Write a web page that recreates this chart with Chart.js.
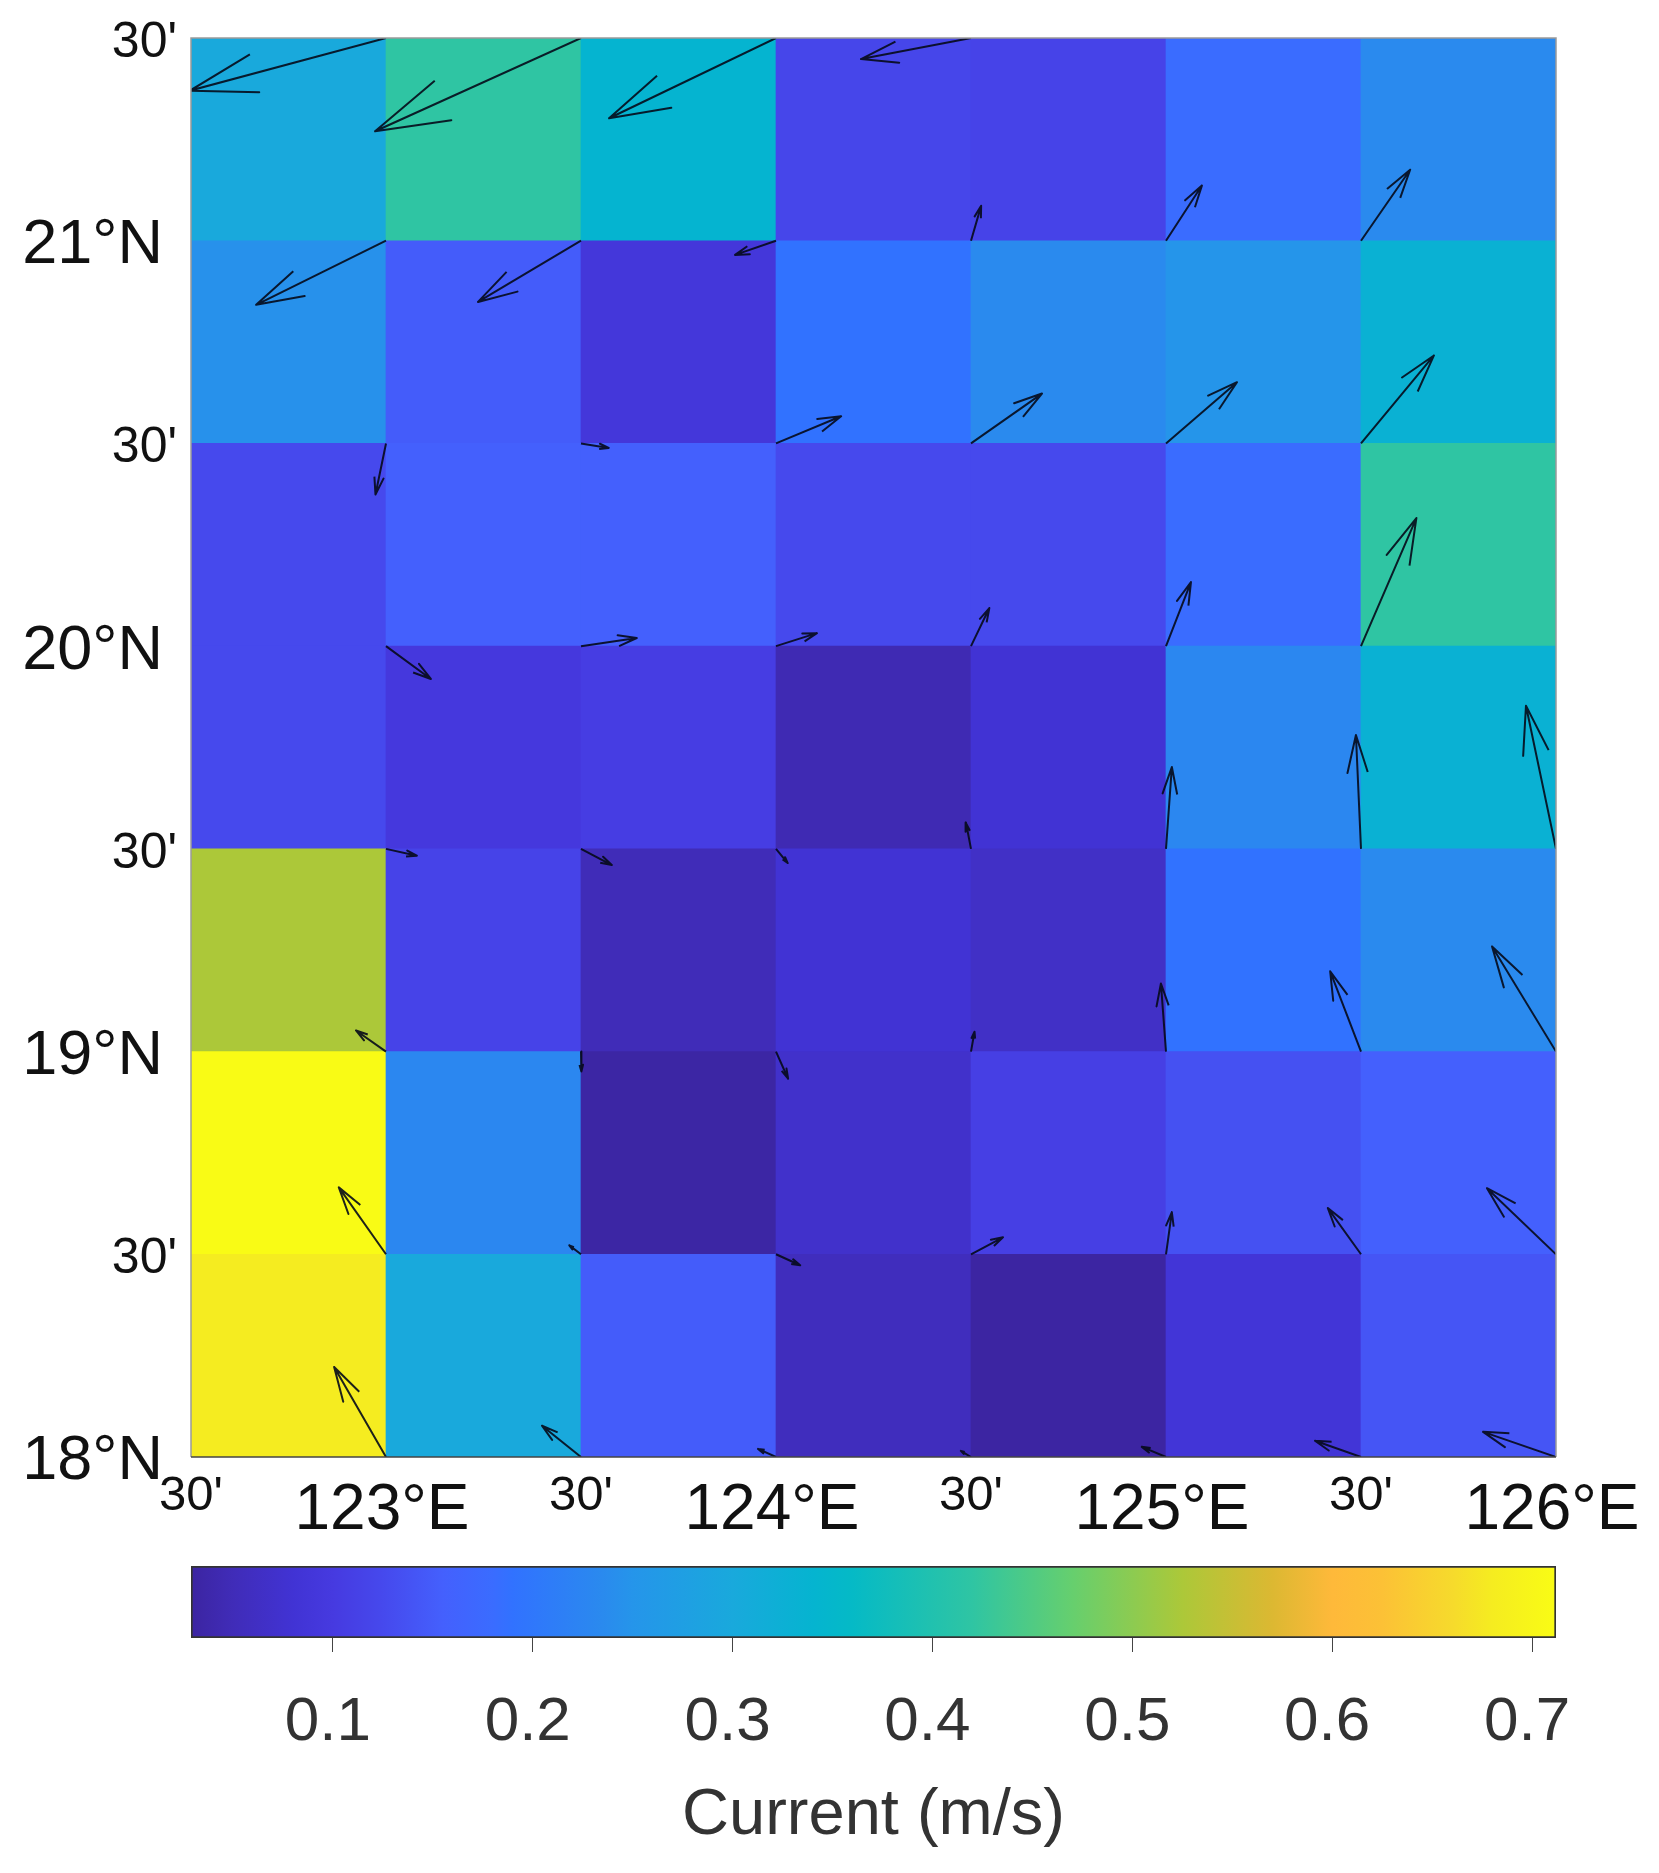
<!DOCTYPE html>
<html>
<head>
<meta charset="utf-8">
<title>Current (m/s)</title>
<script src="https://cdn.jsdelivr.net/npm/chart.js@4"></script>
<style>
	body { margin: 0; background: #fff; }
	#wrap { position: relative; width: 1659px; height: 1873px; overflow: hidden; }
	canvas { position: absolute; left: 0; }
	#mapChart { top: 0; }
	#barChart { top: 1530px; }
</style>
</head>
<body>
<div id="wrap">
	<canvas id="mapChart" width="1659" height="1560"></canvas>
	<canvas id="barChart" width="1659" height="343"></canvas>
</div>
<script>
// cell centres
var cellLons = [122.75, 123.25, 123.75, 124.25, 124.75, 125.25, 125.75];
var cellLats = [21.25, 20.75, 20.25, 19.75, 19.25, 18.75, 18.25];

// current speed per cell, rows north to south
var speedRow1 = [0.30, 0.42, 0.34, 0.12, 0.115, 0.18, 0.235];
var speedRow2 = [0.245, 0.15, 0.09, 0.19, 0.235, 0.25, 0.33];
var speedRow3 = [0.125, 0.155, 0.155, 0.125, 0.125, 0.18, 0.42];
var speedRow4 = [0.125, 0.095, 0.105, 0.045, 0.08, 0.23, 0.33];
var speedRow5 = [0.525, 0.115, 0.05, 0.08, 0.065, 0.19, 0.235];
var speedRow6 = [0.71, 0.23, 0.032, 0.07, 0.108, 0.135, 0.155];
var speedRow7 = [0.68, 0.30, 0.15, 0.055, 0.03, 0.085, 0.14];
var speedRows = [speedRow1, speedRow2, speedRow3, speedRow4, speedRow5, speedRow6, speedRow7];

// arrow tails, arrow components in degrees (null = no arrow in the frame)
var nodeLons = [123, 123.5, 124, 124.5, 125, 125.5, 126];
var nodeLats = [21.5, 21, 20.5, 20, 19.5, 19, 18.5, 18];
var arrowU = [
	[-0.503, -0.528, -0.428, -0.282, null, null, null],
	[-0.333, -0.264, -0.105, 0.026, 0.092, 0.126, null],
	[-0.027, 0.071, 0.167, 0.182, 0.182, 0.187, null],
	[0.115, 0.143, 0.105, 0.047, 0.064, 0.142, null],
	[0.079, 0.079, 0.030, -0.013, 0.015, -0.013, -0.077],
	[-0.077, 0.001, 0.031, 0.009, -0.013, -0.079, -0.164],
	[-0.121, -0.030, 0.062, 0.082, 0.015, -0.085, -0.177],
	[-0.133, -0.100, -0.046, -0.026, -0.062, -0.118, -0.187]
];
var arrowV = [
	[-0.130, -0.230, -0.198, -0.052, null, null, null],
	[-0.158, -0.151, -0.035, 0.086, 0.136, 0.175, null],
	[-0.126, -0.011, 0.067, 0.123, 0.151, 0.217, null],
	[-0.081, 0.020, 0.032, 0.094, 0.158, 0.316, null],
	[-0.017, -0.040, -0.035, 0.065, 0.202, 0.281, 0.353],
	[0.052, -0.049, -0.067, 0.049, 0.168, 0.198, 0.259],
	[0.165, 0.022, -0.027, 0.042, 0.104, 0.114, 0.163],
	[0.222, 0.077, 0.020, 0.015, 0.025, 0.040, 0.062]
];

// tick labels
var lonLabels = ["30'", "123°E", "30'", "124°E", "30'", "125°E", "30'", "126°E"];
var latLabels = ["18°N", "30'", "19°N", "30'", "20°N", "30'", "21°N", "30'"];
var barTicks = [0.1, 0.2, 0.3, 0.4, 0.5, 0.6, 0.7];

// colour map
var mapValues = [0.03, 0.05, 0.08, 0.10, 0.125, 0.155, 0.18, 0.19, 0.235, 0.25, 0.30, 0.34, 0.36, 0.42, 0.47, 0.525, 0.57, 0.60, 0.625, 0.66, 0.68, 0.71];
var mapColors = ['#3c25a2', '#402cb8', '#4133d4', '#463ae0', '#4649ed', '#4460fd', '#3a6cff', '#3172ff', '#2a8aee', '#2595ea', '#19a9dc', '#05b4d0', '#05bac6', '#2fc5a3', '#66cf6e', '#acc839', '#dcb832', '#feb93a', '#fcc136', '#f6da2c', '#f5ec20', '#f9fb15'];
var speedMin = 0.029;
var speedMax = 0.712;

var fontName = '"Liberation Sans", Arial, sans-serif';

function hexToRgb(hex) {
	return [parseInt(hex.substr(1, 2), 16), parseInt(hex.substr(3, 2), 16), parseInt(hex.substr(5, 2), 16)];
}

function speedColor(v) {
	var i = 0;
	while (i < mapValues.length - 2 && v > mapValues[i + 1]) i++;
	var t = Math.min(1, Math.max(0, (v - mapValues[i]) / (mapValues[i + 1] - mapValues[i])));
	var a = hexToRgb(mapColors[i]), b = hexToRgb(mapColors[i + 1]);
	return 'rgb(' + [0, 1, 2].map(function (k) { return Math.round(a[k] + (b[k] - a[k]) * t); }).join(',') + ')';
}

// Cells as floating bars
var cellData = [], cellColors = [];
speedRows.forEach(function (row, r) {
	row.forEach(function (v, c) {
		cellData.push({ x: cellLons[c], y: [cellLats[r] - 0.25, cellLats[r] + 0.25] });
		cellColors.push(speedColor(v));
	});
});

// Arrows as one broken line: tail, tip, barb, tip, barb
var arrowData = [];
arrowU.forEach(function (row, r) {
	row.forEach(function (u, c) {
		if (u === null) return;
		var v = arrowV[r][c], x = nodeLons[c], y = nodeLats[r];
		var tx = x + u, ty = y + v;
		arrowData.push({ x: x, y: y }, { x: tx, y: ty });
		arrowData.push({ x: tx - 0.33 * (u + 0.28 * v), y: ty - 0.33 * (v - 0.28 * u) });
		arrowData.push({ x: tx, y: ty });
		arrowData.push({ x: tx - 0.33 * (u - 0.28 * v), y: ty - 0.33 * (v + 0.28 * u) });
		arrowData.push({ x: null, y: null });
	});
});

// Thin frame round the map
var framePlugin = {
	id: 'frame',
	afterDatasetsDraw: function (chart) {
		var a = chart.chartArea, ctx = chart.ctx;
		ctx.save();
		ctx.lineWidth = 1.5;
		ctx.strokeStyle = '#9a9a9a';
		ctx.beginPath();
		ctx.moveTo(a.left, a.bottom);
		ctx.lineTo(a.left, a.top);
		ctx.lineTo(a.right, a.top);
		ctx.lineTo(a.right, a.bottom);
		ctx.stroke();
		ctx.strokeStyle = '#444';
		ctx.beginPath();
		ctx.moveTo(a.left, a.bottom);
		ctx.lineTo(a.right, a.bottom);
		ctx.stroke();
		ctx.restore();
	}
};

// The big and small tick labels sit at different offsets in the original
var labelNudgePlugin = {
	id: 'labelNudge',
	beforeDraw: function (chart) {
		chart.scales.y.getLabelItems().forEach(function (item) {
			var big = item.label.indexOf('°') >= 0;
			item.options.translation[0] -= big ? 14 : 0;
			item.options.translation[1] += 5;
		});
		chart.scales.x.getLabelItems().forEach(function (item) {
			var big = item.label.indexOf('°') >= 0;
			item.options.translation[0] -= big ? 4 : 0;
			item.options.translation[1] += big ? 12 : 6;
		});
	}
};

// Colour bar labels sit a little left of their ticks
var barNudgePlugin = {
	id: 'barNudge',
	beforeDraw: function (chart) {
		chart.scales.x.getLabelItems().forEach(function (item) {
			item.options.translation[0] -= 5;
		});
	}
};

new Chart(document.getElementById('mapChart').getContext('2d'), {
	type: 'bar',
	data: {
		datasets: [{
			type: 'scatter',
			data: arrowData,
			showLine: true,
			spanGaps: false,
			pointRadius: 0,
			borderColor: 'rgba(5,10,25,0.9)',
			borderWidth: 2,
			borderJoinStyle: 'round',
			order: 0
		}, {
			type: 'bar',
			data: cellData,
			backgroundColor: cellColors,
			borderWidth: 0,
			categoryPercentage: 1,
			barPercentage: 1,
			order: 1
		}]
	},
	options: {
		responsive: false,
		animation: false,
		layout: { padding: { left: 0, right: 103, top: 38, bottom: 0 } },
		plugins: { legend: { display: false }, tooltip: { enabled: false } },
		scales: {
			x: {
				type: 'linear',
				offset: false,
				min: 122.5,
				max: 126,
				afterFit: function (s) {
					s.height = 1560 - 1457;
					s.paddingLeft = 0;
					s.paddingRight = 0;
				},
				grid: { display: false, drawTicks: false },
				border: { display: false },
				ticks: {
					stepSize: 0.5,
					autoSkip: false,
					maxRotation: 0,
					minRotation: 0,
					padding: 4,
					color: '#111',
					font: function (c) {
						return { family: fontName, size: c.index % 2 ? 64 : 49 };
					},
					callback: function (v, i) { return lonLabels[i]; }
				}
			},
			y: {
				type: 'linear',
				min: 18,
				max: 21.5,
				afterFit: function (s) {
					s.width = 191;
					s.paddingTop = 0;
					s.paddingBottom = 0;
				},
				grid: { display: false, drawTicks: false },
				border: { display: false },
				ticks: {
					stepSize: 0.5,
					autoSkip: false,
					padding: 14,
					color: '#111',
					font: function (c) {
						return { family: fontName, size: c.index % 2 ? 50 : 63 };
					},
					callback: function (v, i) { return latLabels[i]; }
				}
			}
		}
	},
	plugins: [framePlugin, labelNudgePlugin]
});

new Chart(document.getElementById('barChart').getContext('2d'), {
	type: 'bar',
	data: {
		labels: ['Current (m/s)'],
		datasets: [{
			data: [[speedMin, speedMax]],
			backgroundColor: function (c) {
				var s = c.chart.scales.x;
				if (!s || !isFinite(s.left) || !isFinite(s.right)) return '#fff';
				var g = c.chart.ctx.createLinearGradient(s.left, 0, s.right, 0);
				mapValues.forEach(function (v, i) {
					g.addColorStop(Math.max(0, (v - speedMin) / (speedMax - speedMin)), mapColors[i]);
				});
				return g;
			},
			borderColor: '#333',
			borderWidth: 2,
			borderSkipped: false,
			categoryPercentage: 1,
			barPercentage: 1
		}]
	},
	options: {
		indexAxis: 'y',
		responsive: false,
		animation: false,
		layout: { padding: { left: 191, right: 103, top: 36, bottom: 0 } },
		plugins: { legend: { display: false }, tooltip: { enabled: false } },
		scales: {
			y: { display: false },
			x: {
				type: 'linear',
				min: speedMin,
				max: speedMax,
				afterBuildTicks: function (s) {
					s.ticks = barTicks.map(function (v) { return { value: v }; });
				},
				afterFit: function (s) {
					s.height = 1873 - 1638;
					s.paddingLeft = 0;
					s.paddingRight = 0;
				},
				grid: { drawOnChartArea: false, drawTicks: true, tickLength: 14, color: '#444', lineWidth: 1 },
				border: { display: false },
				ticks: {
					autoSkip: false,
					maxRotation: 0,
					minRotation: 0,
					padding: 34,
					color: '#333',
					font: { family: fontName, size: 62 },
					callback: function (v) { return v.toFixed(1); }
				},
				title: {
					display: true,
					text: 'Current (m/s)',
					color: '#333',
					font: { family: fontName, size: 65 },
					padding: { top: 0, bottom: 18 }
				}
			}
		}
	},
	plugins: [barNudgePlugin]
});
</script>
</body>
</html>
